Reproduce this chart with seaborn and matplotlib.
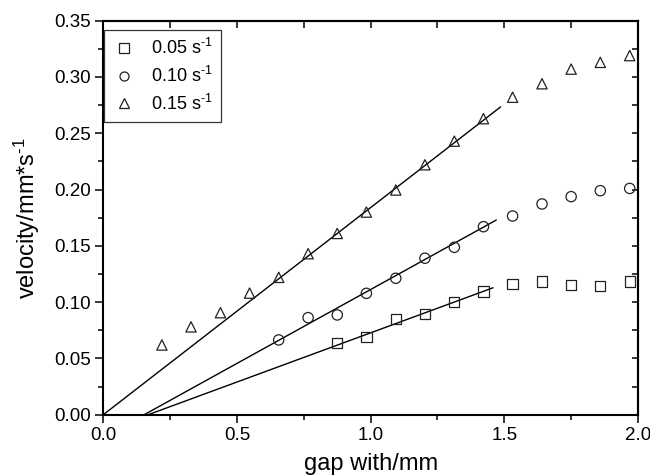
import numpy as np
import pandas as pd
import matplotlib
matplotlib.use("Agg")
import matplotlib.pyplot as plt
import seaborn as sns

# Gap positions (mm) shared by all shear rates
gap = [0.219, 0.328, 0.438, 0.547, 0.656, 0.766, 0.875, 0.984, 1.094,
       1.203, 1.313, 1.422, 1.531, 1.641, 1.750, 1.859, 1.969]

rate_labels = [r"0.05 s$^{\text{-1}}$", r"0.10 s$^{\text{-1}}$",
               r"0.15 s$^{\text{-1}}$"]

# Measured velocities (mm/s); None where no point was recorded
vel_005 = [None, None, None, None, None, None, 0.0634, 0.0693, 0.0847,
           0.0892, 0.0998, 0.1093, 0.1161, 0.1182, 0.1152, 0.1146, 0.1182]
vel_010 = [None, None, None, None, 0.0664, 0.0862, 0.0886, 0.1078, 0.1212,
           0.1390, 0.1487, 0.1670, 0.1765, 0.1872, 0.1937, 0.1990, 0.2010]
vel_015 = [0.0619, 0.0780, 0.0906, 0.1080, 0.1220, 0.1430, 0.1610, 0.1800,
           0.1996, 0.2220, 0.2430, 0.2630, 0.2820, 0.2940, 0.3070, 0.3130,
           0.3190]

# Linear fits: slope and x-intercept, plus the gap where each fit stops
fit_slope = [0.0874, 0.1313, 0.1840]
fit_x0 = [0.168, 0.153, 0.0]
fit_xend = [1.458, 1.470, 1.486]

rows = []
for lab, vals in zip(rate_labels, [vel_005, vel_010, vel_015]):
    for g, v in zip(gap, vals):
        if v is not None:
            rows.append({"gap": g, "velocity": v, "rate": lab})
df = pd.DataFrame(rows)

sns.set_style("ticks", {"text.color": "black", "axes.labelcolor": "black",
                        "xtick.color": "black", "ytick.color": "black",
                        "axes.edgecolor": "black"})
plt.rcParams["font.family"] = ["Liberation Sans", "DejaVu Sans"]
plt.rcParams["mathtext.fontset"] = "custom"
plt.rcParams["mathtext.rm"] = "Liberation Sans"
plt.rcParams["mathtext.it"] = "Liberation Sans:italic"

fig = plt.figure(figsize=(6.5, 4.75), dpi=100)
ax = fig.add_axes([0.159, 0.127, 0.8225, 0.8294])

markers = {rate_labels[0]: "s", rate_labels[1]: "o", rate_labels[2]: "^"}
sns.scatterplot(data=df, x="gap", y="velocity", style="rate",
                markers=markers, style_order=rate_labels,
                color="k", facecolor="none", edgecolor="#222222",
                linewidth=0.9, s=55, ax=ax, legend=False, zorder=3)

# Fitted straight lines
for m, x0, xe in zip(fit_slope, fit_x0, fit_xend):
    xs = np.array([x0, xe])
    sns.lineplot(x=xs, y=m * (xs - x0), color="k", linewidth=1.0,
                 ax=ax, zorder=2)

ax.set_xlim(0, 2.0)
ax.set_ylim(0, 0.35)
ax.set_xticks([0.0, 0.5, 1.0, 1.5, 2.0])
ax.set_xticks(np.arange(0.25, 2.0, 0.5), minor=True)
ax.set_yticks(np.arange(0, 0.351, 0.05))
ax.set_yticks(np.arange(0.025, 0.35, 0.05), minor=True)
ax.xaxis.set_major_formatter(plt.FormatStrFormatter("%.1f"))
ax.yaxis.set_major_formatter(plt.FormatStrFormatter("%.2f"))
ax.tick_params(which="major", direction="out", length=6, width=1.1,
               labelsize=13.5, pad=3)
ax.tick_params(which="minor", direction="out", length=3.5, width=1.1)
for sp in ax.spines.values():
    sp.set_linewidth(1.5)
    sp.set_visible(True)

# Mirrored inward ticks on top and right
top = ax.secondary_xaxis("top")
top.set_xticks(np.arange(0.25, 2.0, 0.25))
top.tick_params(direction="in", length=5, width=1.1, labeltop=False)
top.spines["top"].set_linewidth(1.5)
right = ax.secondary_yaxis("right")
right.set_yticks(np.arange(0.025, 0.35, 0.025))
right.tick_params(direction="in", length=4.5, width=1.1, labelright=False)
right.spines["right"].set_linewidth(1.5)

ax.set_xlabel("gap with/mm", fontsize=17, labelpad=6)
ax.set_ylabel(r"velocity/mm*s$^{\text{-1}}$", fontsize=17, labelpad=9)

handles = [plt.Line2D([], [], linestyle="", marker=markers[l],
                      markerfacecolor="none", markeredgecolor="#222222",
                      markeredgewidth=0.9, markersize=6.5)
           for l in rate_labels]
leg = ax.legend(handles, rate_labels, loc="upper left",
                bbox_to_anchor=(0.0015, 0.976), fontsize=13,
                frameon=True, fancybox=False, edgecolor="k",
                borderaxespad=0.0, handlelength=1.3, handletextpad=0.85,
                labelspacing=0.42, borderpad=0.45)
leg.get_frame().set_linewidth(0.9)

fig.savefig("out.png", dpi=100)
